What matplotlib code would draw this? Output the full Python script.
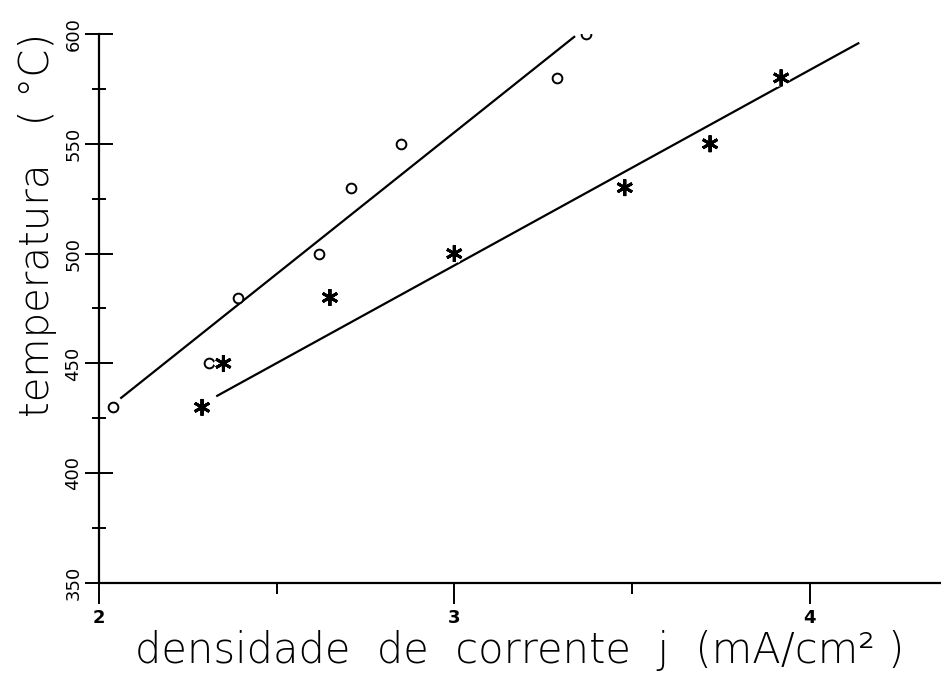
import matplotlib
matplotlib.use("Agg")
import matplotlib.pyplot as plt
from matplotlib.ticker import MultipleLocator, FixedLocator
import matplotlib.patheffects as pe

# data
circle_j = [2.04, 2.31, 2.39, 2.62, 2.71, 2.85, 3.29, 3.37]
circle_T = [430, 450, 480, 500, 530, 550, 580, 600]
star_j = [2.29, 2.35, 2.65, 3.00, 3.48, 3.72, 3.92]
star_T = [430, 450, 480, 500, 530, 550, 580]
# hand-drawn straight lines (end points)
circle_line_j = [2.06, 3.34]
circle_line_T = [434, 599]
star_line_j = [2.33, 4.14]
star_line_T = [435, 596]

x_ticks = [2, 3, 4]
x_tick_labels = ["2", "3", "4"]
y_ticks = [350, 400, 450, 500, 550, 600]

plt.rcParams['font.family'] = ['DejaVu Sans']
fig = plt.figure(figsize=(9.41, 6.78), dpi=100)
ax = fig.add_axes([0.1052, 0.1401, 0.8948, 0.8098])

ax.plot(circle_line_j, circle_line_T, color='black', lw=1.6, solid_capstyle='butt')
ax.plot(star_line_j, star_line_T, color='black', lw=1.6, solid_capstyle='butt')

ax.plot(circle_j, circle_T, linestyle='none', marker='o', markersize=7,
        markerfacecolor='white', markeredgecolor='black', markeredgewidth=1.4)
ax.plot(star_j, star_T, linestyle='none', marker=(6, 2, 0), markersize=12,
        color='black', markeredgewidth=2.0,
        path_effects=[pe.withStroke(linewidth=8, foreground='white'), pe.Normal()])

ax.set_xlim(2, 4.37)
ax.set_ylim(350, 600)
for s in ['top', 'right']:
    ax.spines[s].set_visible(False)
for s in ['left', 'bottom']:
    ax.spines[s].set_linewidth(1.6)

ax.xaxis.set_major_locator(FixedLocator(x_ticks))
ax.set_xticklabels(x_tick_labels)
ax.xaxis.set_minor_locator(FixedLocator([2.5, 3.5]))
ax.yaxis.set_major_locator(FixedLocator(y_ticks))
ax.yaxis.set_minor_locator(MultipleLocator(25))

ax.tick_params(axis='x', which='major', direction='out', length=15, width=1.4,
               labelsize=13, pad=4)
ax.tick_params(axis='x', which='minor', direction='out', length=8, width=1.4)
ax.tick_params(axis='y', which='major', direction='inout', length=20, width=1.4,
               labelsize=13, pad=2)
ax.tick_params(axis='y', which='minor', direction='inout', length=10, width=1.4)
for lab in ax.get_yticklabels():
    lab.set_rotation(90)
    lab.set_va('center')
for lab in ax.get_xticklabels():
    lab.set_fontweight('bold')

ax.set_xlabel("densidade  de  corrente  j  (mA/cm² )", fontsize=30,
              fontweight='light', labelpad=2)
ax.set_ylabel("temperatura   ( °C)", fontsize=29, fontweight='light')
ax.yaxis.set_label_coords(-0.05, 0.652)

fig.savefig("out.png", dpi=100)
